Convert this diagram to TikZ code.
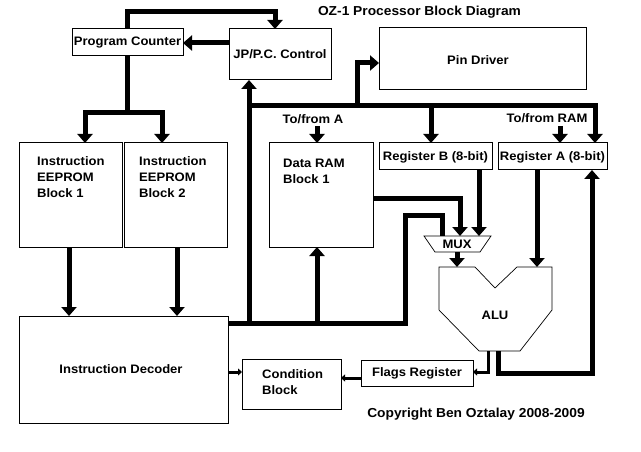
\documentclass[tikz,border=0pt]{standalone}
\usepackage{fontspec}
\setmainfont[FakeStretch=1.06]{Liberation Sans}
\usetikzlibrary{arrows.meta}
\begin{document}
\begin{tikzpicture}[x=1pt,y=-1pt,
  box/.style={draw,line width=1pt,inner sep=0pt},
  bus/.style={line width=5pt},
  thinbus/.style={line width=3pt},
  big/.style={-{Triangle[width=15pt,length=9pt]}},
  small/.style={-{Triangle[width=7pt,length=4pt]}},
  txt/.style={font=\fontsize{12.3}{16}\selectfont\bfseries,inner sep=0pt},
  bigtxt/.style={font=\fontsize{13}{16}\selectfont\bfseries,inner sep=0pt}
]
\fill[white] (0,0) rectangle (641,452);
\useasboundingbox (0,0) rectangle (641,452);

% boxes
\node[box,minimum width=111pt,minimum height=27pt] (pc) at (127.5,42.5) {};
\node[box,minimum width=102pt,minimum height=51pt] (jp) at (280,54.5) {};
\node[box,minimum width=207pt,minimum height=62pt] (pin) at (482.5,59) {};
\node[box,minimum width=113pt,minimum height=27pt] (regb) at (435.5,156.5) {};
\node[box,minimum width=109pt,minimum height=27pt] (rega) at (552.5,156.5) {};
\node[box,minimum width=103pt,minimum height=104pt] (ee1) at (70.5,195) {};
\node[box,minimum width=103pt,minimum height=104pt] (ee2) at (175.5,195) {};
\node[box,minimum width=104pt,minimum height=104pt] (ram) at (321,195) {};
\node[box,minimum width=209pt,minimum height=107pt] (dec) at (123.5,369.5) {};
\node[box,minimum width=99pt,minimum height=50pt] (cond) at (291.5,384) {};
\node[box,minimum width=112pt,minimum height=26pt] (flags) at (417,373) {};

\node[txt] (pct) at (127.5,42.5) {Program Counter};
\node[txt] (jpt) at (280,54) {JP/P.C. Control};
\node[txt] (pint) at (478,60) {Pin Driver};
\node[txt] (regbt) at (435.5,157) {Register B (8-bit)};
\node[txt] (regat) at (552.5,157) {Register A (8-bit)};
\node[txt] (flagst) at (417,373) {Flags Register};
\node[txt,anchor=north west,align=left] (ee1t) at (37,156) {Instruction\\EEPROM\\Block 1};
\node[txt,anchor=north west,align=left] (ee2t) at (139,156) {Instruction\\EEPROM\\Block 2};
\node[txt,anchor=north west,align=left] (ramt) at (283,159) {Data RAM\\Block 1};
\node[txt,anchor=north west,align=left] (condt) at (262,369) {Condition\\Block};
\node[txt] (dect) at (121,369) {Instruction Decoder};

% ALU and MUX
\draw[line width=0.7pt] (439,267) -- (475,267) -- (495,288) -- (517,267) -- (552,267)
  -- (552,310) -- (520,351) -- (479,351) -- (439,310) -- cycle;
\node[txt] (alu) at (495,315) {ALU};
\draw[line width=0.7pt] (424,236) -- (491,236) -- (480,252) -- (435,252) -- cycle;
\node[txt] (mux) at (457,244) {MUX};

% labels
\node[bigtxt] (title) at (419.5,12) {OZ-1 Processor Block Diagram};
\node[bigtxt] (copy) at (476,414) {Copyright Ben Oztalay 2008-2009};
\node[txt] (tfa) at (313,119) {To/from A};
\node[txt] (tfr) at (547,118) {To/from RAM};

% coordinates
\coordinate (pcTop) at (127,29);
\coordinate (topL) at (127,12);
\coordinate (topR) at (275,12);
\coordinate (jpTop) at (275,29);
\coordinate (jpL) at (229,43);
\coordinate (pcR) at (183,43);
\coordinate (pcBot) at (127,56);
\coordinate (split) at (127,113);
\coordinate (ee1in) at (85,143);
\coordinate (ee2in) at (162,143);
\coordinate (ee1out) at (69,247);
\coordinate (ee2out) at (177,247);
\coordinate (dec1in) at (69,316);
\coordinate (dec2in) at (177,316);
\coordinate (decR) at (228,323);
\coordinate (busBL) at (249,323);
\coordinate (busBM) at (317,323);
\coordinate (busBR) at (405,323);
\coordinate (jpBot) at (249,80);
\coordinate (ramBot) at (317,247);
\coordinate (busT) at (249,106);
\coordinate (busTP) at (357,106);
\coordinate (busTB) at (431,106);
\coordinate (busTR) at (595,106);
\coordinate (pinL) at (379,63);
\coordinate (regbTop) at (431,143);
\coordinate (regaTop) at (595,143);
\coordinate (tfaA) at (317,126);
\coordinate (ramTop) at (317,143);
\coordinate (tfrA) at (560,126);
\coordinate (regaTop2) at (560,143);
\coordinate (ramR) at (373,198);
\coordinate (mux1) at (442,236);
\coordinate (mux2) at (460,236);
\coordinate (mux3) at (479,236);
\coordinate (busUp) at (405,215);
\coordinate (regbBot) at (479,170);
\coordinate (muxBot) at (457,252);
\coordinate (aluIn1) at (457,267);
\coordinate (regaBot) at (537,170);
\coordinate (aluIn2) at (537,267);
\coordinate (aluOut1) at (488,351);
\coordinate (flagsR) at (473,372);
\coordinate (aluOut2) at (498,351);
\coordinate (loopR) at (592,373);
\coordinate (regaBot2) at (592,170);
\coordinate (decR2) at (228,372);
\coordinate (condL) at (242,372);
\coordinate (flagsL) at (361,378);
\coordinate (condR) at (341,378);

% connectors
\draw[bus,big] (pcTop) -- (topL) -- (topR) -- (jpTop);
\draw[bus,big] (jpL) -- (pcR);
\draw[bus] (pcBot) -- (split);
\draw[bus,big] (split) -| (ee1in);
\draw[bus,big] (split) -| (ee2in);
\draw[bus,big] (ee1out) -- (dec1in);
\draw[bus,big] (ee2out) -- (dec2in);
\draw[bus] (decR) -- (busBR) |- (busUp) -| (mux1);
\draw[bus,big] (busBL) -- (jpBot);
\draw[bus,big] (busBM) -- (ramBot);
\draw[bus,big] (busT) -- (busTR) -- (regaTop);
\draw[bus,big] (busTP) |- (pinL);
\draw[bus,big] (busTB) -- (regbTop);
\draw[bus,big] (tfaA) -- (ramTop);
\draw[bus,big] (tfrA) -- (regaTop2);
\draw[bus,big] (ramR) -| (mux2);
\draw[bus,big] (regbBot) -- (mux3);
\draw[bus,big] (muxBot) -- (aluIn1);
\draw[bus,big] (regaBot) -- (aluIn2);
\draw[thinbus,small] (aluOut1) |- (flagsR);
\draw[bus,big] (aluOut2) |- (loopR) -- (regaBot2);
\draw[thinbus,small] (decR2) -- (condL);
\draw[thinbus,small] (flagsL) -- (condR);
\end{tikzpicture}
\end{document}
